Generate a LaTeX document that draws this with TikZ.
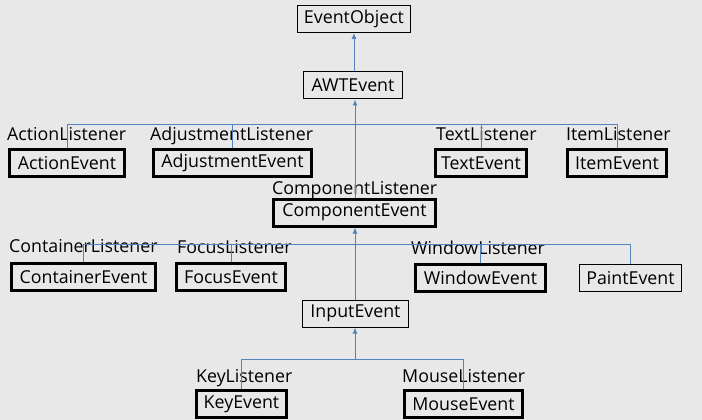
\documentclass[tikz,border=0pt]{standalone}
\usepackage{fontspec}
\setmainfont{Open Sans}
\usepackage{tikz}
\usetikzlibrary{positioning}
\usetikzlibrary{arrows.meta}
\definecolor{bgcol}{RGB}{232,232,232}
\definecolor{linecol}{RGB}{84,130,190}
\tikzstyle{thinbox}=[rectangle,draw=black,line width=1pt,fill=bgcol,inner sep=0pt,minimum height=27pt,font=\fontsize{17.8}{18}\selectfont]
\tikzstyle{thickbox}=[rectangle,draw=black,line width=3pt,fill=bgcol,inner sep=0pt,minimum height=27pt,font=\fontsize{17.8}{18}\selectfont]
\tikzstyle{listener}=[anchor=base west,inner sep=0pt,font=\fontsize{17.8}{18}\selectfont]
\tikzstyle{edge} = [draw,line width=1pt,linecol,-{Latex[length=6pt,width=5pt]}]
\tikzstyle{undirectededge} = [draw,line width=1pt,linecol]

\begin{document}
\begin{tikzpicture}[x=1pt,y=-1pt]

  \fill[bgcol] (0,0) rectangle (702,420);
  \useasboundingbox (0,0) rectangle (702,420);

   \foreach \x/\y/\w/\name in {354/19/113/EventObject, 353/85.5/99/AWTEvent, 355.5/313.5/106/InputEvent, 630.5/278/102/PaintEvent}
          \node[thinbox, minimum width=\w] (\name) at (\x,\y) {\name};

   \foreach \x/\y/\w/\name in {67/163/115/ActionEvent, 232.5/163/158/AdjustmentEvent, 481/163/91/TextEvent, 617/163/99/ItemEvent,
                               354.5/212.5/162/ComponentEvent,
                               83.5/277/144/ContainerEvent, 231/277/109/FocusEvent, 480.5/278/130/WindowEvent,
                               241.5/404/90/KeyEvent, 463.5/404/118/MouseEvent}
          \node[thickbox, minimum width=\w] (\name) at (\x,\y) {\name};

   \foreach \x/\y/\name in {7/140/ActionListener, 150/140/AdjustmentListener, 436/140/TextListener, 566/140/ItemListener,
                            272/194/ComponentListener,
                            9/252/ContainerListener, 177/253/FocusListener, 411/254/WindowListener,
                            196/382/KeyListener, 402/382/MouseListener}
          \node[listener] (\name) at (\x,\y) {\name};

  % bus lines
  \coordinate (bus1) at (355,124);
  \coordinate (bus2) at (355,244);
  \coordinate (bus3) at (355,359);

  \foreach \source/ \dest in {ActionEvent/bus1, AdjustmentEvent/bus1, TextEvent/bus1, ItemEvent/bus1,
                              ContainerEvent/bus2, FocusEvent/bus2, WindowEvent/bus2, PaintEvent/bus2,
                              KeyEvent/bus3, MouseEvent/bus3}
         \path[undirectededge] (\source.north) |- (\dest);

  \path[edge] (AWTEvent.north -| EventObject.south) -- (EventObject.south);
  \path[edge] (ComponentEvent.north -| bus1) -- (AWTEvent.south -| bus1);
  \path[edge] (InputEvent.north -| bus2) -- (ComponentEvent.south -| bus2);
  \path[edge] (bus3) -- (InputEvent.south -| bus3);

\end{tikzpicture}
\end{document}
